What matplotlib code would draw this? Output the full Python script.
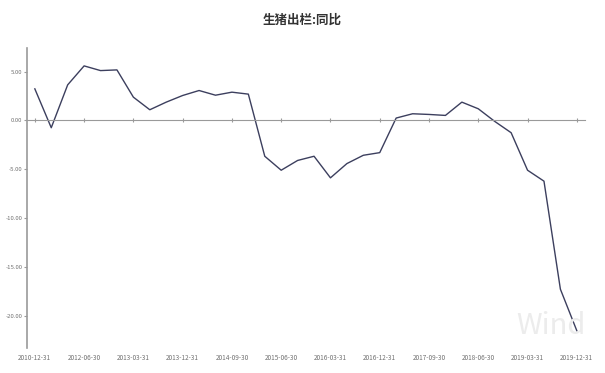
import matplotlib

matplotlib.use("Agg")
import matplotlib.pyplot as plt

plt.rcParams["font.family"] = ["Noto Sans CJK SC", "DejaVu Sans"]
plt.rcParams["axes.unicode_minus"] = False

# quarterly data (first two points annual)
dates = [
    "2010-12-31", "2011-12-31", "2012-03-31", "2012-06-30", "2012-09-30",
    "2012-12-31", "2013-03-31", "2013-06-30", "2013-09-30", "2013-12-31",
    "2014-03-31", "2014-06-30", "2014-09-30", "2014-12-31", "2015-03-31",
    "2015-06-30", "2015-09-30", "2015-12-31", "2016-03-31", "2016-06-30",
    "2016-09-30", "2016-12-31", "2017-03-31", "2017-06-30", "2017-09-30",
    "2017-12-31", "2018-03-31", "2018-06-30", "2018-09-30", "2018-12-31",
    "2019-03-31", "2019-06-30", "2019-09-30", "2019-12-31",
]
yoy = [
    3.23, -0.75, 3.64, 5.58, 5.10, 5.17, 2.38, 1.09, 1.87, 2.55,
    3.06, 2.58, 2.89, 2.69, -3.67, -5.10, -4.10, -3.67, -5.88, -4.42,
    -3.57, -3.30, 0.24, 0.68, 0.61, 0.51, 1.87, 1.19, -0.10, -1.26,
    -5.10, -6.22, -17.28, -21.53,
]
yticks = [5, 0, -5, -10, -15, -20]

x = list(range(len(dates)))
grey = "#9a9a9a"
txt = "#707070"

fig = plt.figure(figsize=(6.05, 3.73), dpi=100)
ax = fig.add_axes([0.044, 0.067, 0.923, 0.804])

ax.plot(x, yoy, color="#3c3f5e", lw=1.0)

ax.set_xlim(-0.5, 33.5)
ax.set_ylim(-23.3, 7.4)

for s in ["top", "right"]:
    ax.spines[s].set_visible(False)
ax.spines["left"].set_color(grey)
ax.spines["left"].set_linewidth(1.2)
ax.spines["bottom"].set_position(("data", 0))
ax.spines["bottom"].set_color(grey)
ax.spines["bottom"].set_linewidth(0.8)

tick_idx = x[::3]
ax.set_xticks(tick_idx)
ax.set_xticklabels([])
ax.tick_params(axis="x", length=3, color=grey, direction="inout")

sec = ax.secondary_xaxis(0)
sec.set_xticks(tick_idx)
sec.set_xticklabels([dates[i] for i in tick_idx], fontsize=4.6, color=txt)
sec.tick_params(length=0, pad=4)
sec.spines["bottom"].set_visible(False)

ax.set_yticks(yticks)
ax.set_yticklabels([f"{v:.2f}" for v in yticks], fontsize=4.3, color=txt)
ax.tick_params(axis="y", length=2, color=grey, pad=1)

ax.text(-0.7, 1.035, "%", transform=ax.get_yaxis_transform(), fontsize=4.6,
        color=txt, ha="center", va="bottom")

fig.text(0.5, 0.945, "生猪出栏:同比", ha="center", va="center", fontsize=9,
         fontweight="bold", color="#333333")

# watermark
fig.text(0.91, 0.125, "Wind", ha="center", va="center", fontsize=21,
         color="#ececec", zorder=0)

fig.savefig("out.png", dpi=100)
